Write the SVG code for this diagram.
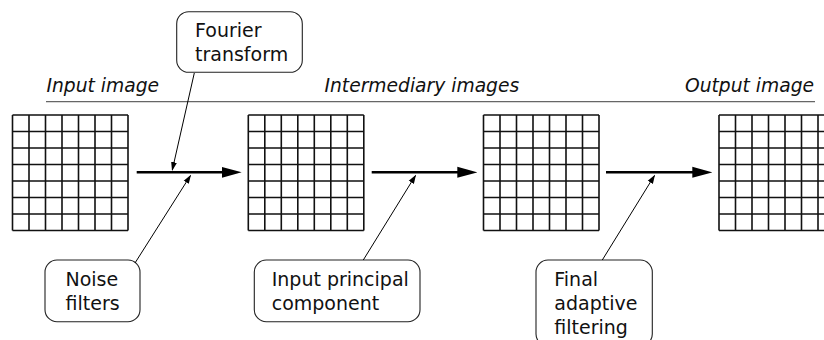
<svg xmlns="http://www.w3.org/2000/svg" xmlns:xlink="http://www.w3.org/1999/xlink" width="824" height="340" viewBox="0 0 824 340">
<style>
.head{font-family:"DejaVu Sans",sans-serif;font-style:italic;font-size:18.7px;fill:#111}
.lbl{font-family:"DejaVu Sans",sans-serif;font-size:19px;fill:#111}
.box{fill:#fff;stroke:#222;stroke-width:1.1}
.grid{fill:none;stroke:#111;stroke-width:1.6}
.main{stroke:#000;stroke-width:2.6;fill:none}
.ptr{stroke:#000;stroke-width:1;fill:none}
.rule{stroke:#666;stroke-width:1.2}
</style>
<defs>
<marker id="big" markerUnits="userSpaceOnUse" markerWidth="20" markerHeight="12" refX="10" refY="6" orient="auto">
<path d="M0,0.5 L20,6 L0,11.5 z" fill="#000"/>
</marker>
<marker id="small" markerUnits="userSpaceOnUse" markerWidth="9" markerHeight="7" refX="8" refY="3.5" orient="auto">
<path d="M0,0.5 L9,3.5 L0,6.5 z" fill="#000"/>
</marker>
<g id="gridshape">
<path class="grid" d="M0,0H115.5M0,16.5H115.5M0,33H115.5M0,49.5H115.5M0,66H115.5M0,82.5H115.5M0,99H115.5M0,115.5H115.5M0,0V115.5M16.5,0V115.5M33,0V115.5M49.5,0V115.5M66,0V115.5M82.5,0V115.5M99,0V115.5M115.5,0V115.5"/>
</g>
</defs>
<rect width="824" height="340" fill="#fff"/>
<g id="headings">
<line class="rule" x1="46" y1="101.7" x2="815" y2="101.7"/>
<text class="head" x="46.5" y="91.7">Input image</text>
<text class="head" x="324.5" y="91.7">Intermediary images</text>
<text class="head" x="814" y="91.7" text-anchor="end">Output image</text>
</g>
<g id="input-image"><use xlink:href="#gridshape" x="12.5" y="115"/></g>
<g id="intermediate-image-1"><use xlink:href="#gridshape" x="248.3" y="115"/></g>
<g id="intermediate-image-2"><use xlink:href="#gridshape" x="483.5" y="115"/></g>
<g id="output-image"><use xlink:href="#gridshape" x="719" y="115"/></g>
<g id="fourier-transform">
<rect class="box" x="176.7" y="11.7" width="125.6" height="60.6" rx="12"/>
<text class="lbl" x="195" y="36.7">Fourier</text>
<text class="lbl" x="195" y="61">transform</text>
</g>
<g id="noise-filters">
<rect class="box" x="45" y="260" width="95" height="61.7" rx="12"/>
<text class="lbl" x="65.5" y="286">Noise</text>
<text class="lbl" x="65.5" y="310">filters</text>
</g>
<g id="input-principal-component">
<rect class="box" x="254.3" y="260" width="165.7" height="61.7" rx="12"/>
<text class="lbl" x="271.7" y="286">Input principal</text>
<text class="lbl" x="271.7" y="310">component</text>
</g>
<g id="final-adaptive-filtering">
<rect class="box" x="536" y="260" width="116.3" height="86" rx="12"/>
<text class="lbl" x="554.3" y="286">Final</text>
<text class="lbl" x="554.3" y="309.5">adaptive</text>
<text class="lbl" x="554.3" y="334">filtering</text>
</g>
<g id="connectors">
<line class="main" x1="136.7" y1="172.3" x2="231.7" y2="172.3" marker-end="url(#big)"/>
<line class="main" x1="371.7" y1="172.3" x2="467.3" y2="172.3" marker-end="url(#big)"/>
<line class="main" x1="606" y1="172.3" x2="702.3" y2="172.3" marker-end="url(#big)"/>
<line class="ptr" x1="194.3" y1="73" x2="172.3" y2="170" marker-end="url(#small)"/>
<line class="ptr" x1="135" y1="263" x2="190.5" y2="175.5" marker-end="url(#small)"/>
<line class="ptr" x1="363.3" y1="260" x2="415.5" y2="175.5" marker-end="url(#small)"/>
<line class="ptr" x1="602.3" y1="260" x2="654.5" y2="175.5" marker-end="url(#small)"/>
</g>
</svg>
